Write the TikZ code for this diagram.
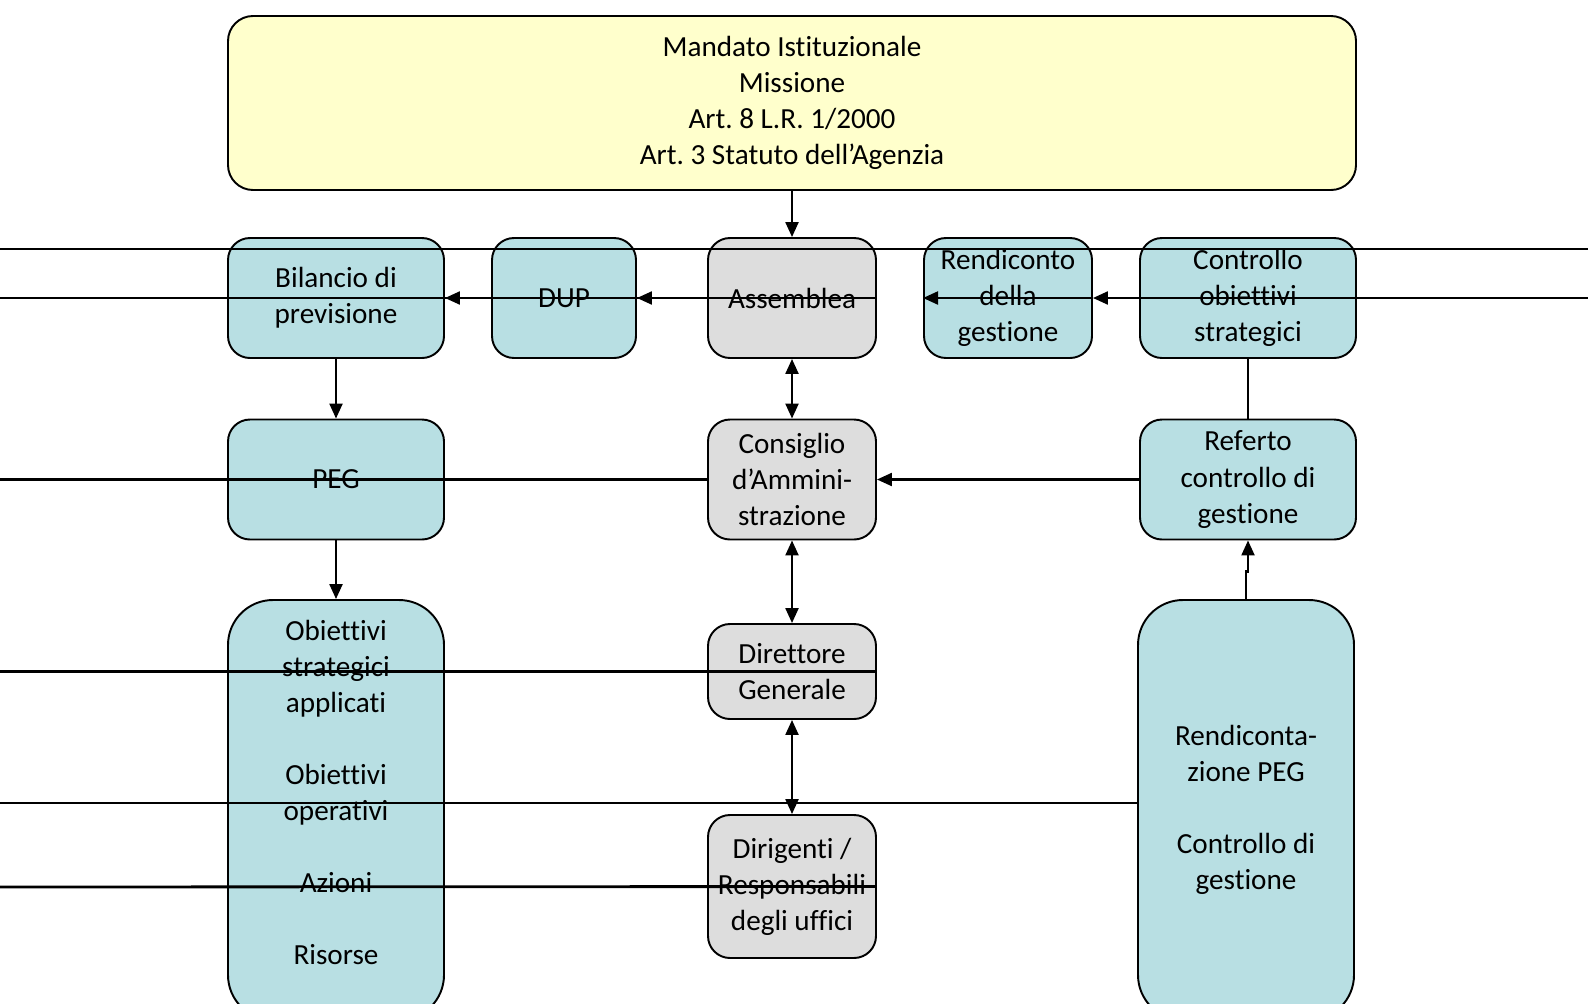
\documentclass[tikz,border=0pt]{standalone}
\usepackage{fontspec}
\setmainfont{Carlito}[Ligatures=NoCommon]
\usetikzlibrary{shapes, arrows.meta, positioning}
\definecolor{giallo}{RGB}{255,255,204}
\definecolor{azzurro}{RGB}{184,223,227}
\definecolor{grigio}{RGB}{221,221,221}
\frenchspacing

\begin{document}
\begin{tikzpicture}[node distance=4.56cm,
    box/.style={rectangle, rounded corners=0.44cm, draw, line width=1.1pt, align=center, inner sep=2pt, font=\fontsize{16.6}{20.5}\selectfont},
    ente/.style={box, fill=azzurro, minimum width=4.32cm, minimum height=2.4cm},
    organo/.style={box, fill=grigio, minimum width=3.36cm},
    arr/.style={-{Triangle[length=0.3cm,width=0.26cm]}, line width=1.3pt},
    darr/.style={{Triangle[length=0.3cm,width=0.26cm]}-{Triangle[length=0.3cm,width=0.26cm]}, line width=1.3pt},
    hline/.style={line width=1.6pt}]
        \useasboundingbox (0,0) rectangle (31.76,-20.06);

        % First row
        \node[ente] (bilancio) at (6.72,-5.96) {Bilancio di\\previsione};
        \node[ente, minimum width=2.88cm, right of=bilancio] (dup) {DUP};
        \node[organo, minimum height=2.4cm, right of=dup] (assemblea) {Assemblea};
        \node[ente, minimum width=3.36cm, right of=assemblea, node distance=4.32cm] (rendiconto) {Rendiconto\\della\\gestione};
        \node[ente, right of=rendiconto, node distance=4.8cm] (controllo) {Controllo\\obiettivi\\strategici};

        % Mandate
        \node[box, fill=giallo, rounded corners=0.5cm, minimum width=22.56cm, minimum height=3.48cm, above of=assemblea, node distance=3.9cm] (mandato) {Mandato Istituzionale\\Missione\\Art. 8 L.R. 1/2000\\Art. 3 Statuto dell’Agenzia};

        % Second row
        \node[ente, below of=bilancio, node distance=3.63cm] (peg) {PEG};
        \node[organo, minimum height=2.4cm, below of=assemblea, node distance=3.63cm] (consiglio) {Consiglio\\d’Ammini-\\strazione};
        \node[ente, below of=controllo, node distance=3.63cm] (referto) {Referto\\controllo di\\gestione};

        % Third row
        \node[organo, minimum height=1.9cm, below of=consiglio, node distance=3.84cm] (direttore) {Direttore\\Generale};
        \node[organo, minimum height=2.86cm, below of=direttore, node distance=4.3cm] (dirigenti) {Dirigenti /\\Responsabili\\degli uffici};
        \node[ente, rounded corners=0.9cm, minimum height=8.4cm, below of=peg, node distance=6.61cm] (obiettivi) {Obiettivi\\strategici\\applicati\\[20.5pt]Obiettivi\\operativi\\[20.5pt]Azioni\\[20.5pt]Risorse\\\mbox{}};
        \node[ente, rounded corners=0.9cm, minimum height=8.4cm, below of=referto, node distance=6.61cm, xshift=-0.04cm] (rendicontazione) {Rendiconta-\\zione PEG\\[20.5pt]Controllo di\\gestione};

        % Border points
        \coordinate (w1) at (0,-4.98);
        \coordinate (e1) at (31.76,-4.98);
        \coordinate (w2) at (0,-5.96);
        \coordinate (e2) at (31.76,-5.96);
        \coordinate (w3) at (0,-9.59);
        \coordinate (w4) at (0,-13.43);
        \coordinate (w5) at (0,-16.06);
        \coordinate (w6) at (0,-17.74);

        % Connections
        \draw[arr] (mandato) -- (assemblea);
        \draw[arr] (bilancio) -- (peg);
        \draw[arr] (peg) -- (obiettivi);
        \draw[darr] (assemblea) -- (consiglio);
        \draw[darr] (consiglio) -- (direttore);
        \draw[darr] (direttore) -- (dirigenti);
        \draw[line width=1.3pt] (controllo) -- (referto);
        \draw[arr] (rendicontazione.north) -- ++(0,0.55) -| (referto.south);
        \draw[arr] (referto) -- (consiglio);

        % Lines across
        \draw[hline] (w1) -- (e1);
        \draw[hline] (w2) -- (assemblea.east);
        \draw[arr] (assemblea.west) -- (dup.east);
        \draw[arr] (dup.west) -- (bilancio.east);
        \draw[arr] (e2) -- (rendiconto.east);
        \draw[arr] (rendiconto.east) -- (rendiconto.west);
        \draw[hline] (w3) -- (consiglio.west);
        \draw[hline] (w4) -- (direttore.east);
        \draw[hline] (w5) -- (w5 -| rendicontazione.west);
        \draw[hline] (w6) -- (dirigenti.east);
    \end{tikzpicture}
\end{document}
